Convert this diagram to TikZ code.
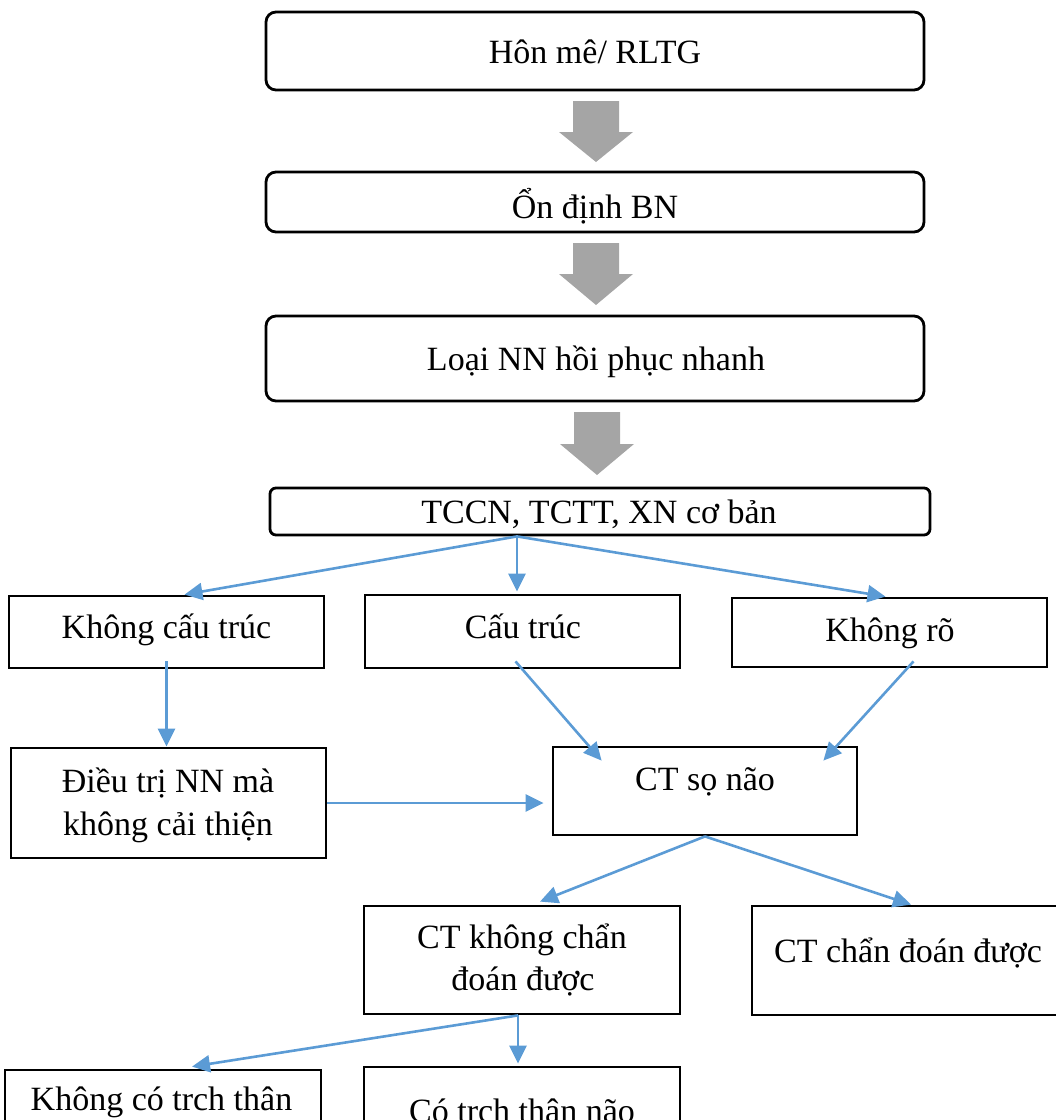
\documentclass[tikz,border=0pt]{standalone}
\usepackage{fontspec}
\setmainfont{Liberation Serif}
\usetikzlibrary{arrows.meta,calc}
\definecolor{cblue}{HTML}{5B9BD5}
\definecolor{agray}{HTML}{A5A5A5}
\newcommand\blockarrow[4]{% center x, top y, head y, tip y
  \fill[agray] (#1-23,#2) -- (#1+23,#2) -- (#1+23,#3) -- (#1+37,#3) -- (#1,#4) -- (#1-37,#3) -- (#1-23,#3) -- cycle;}
\tikzset{
  box/.style={draw, line width=2.8pt, inner sep=0pt},
  rbox/.style={box, rounded corners=10pt},
  txt/.style={font=\fontsize{34}{40}\selectfont, inner sep=0pt, anchor=base},
  conn/.style={draw=cblue, line width=2.6pt, -{Triangle[length=18pt,width=17pt]}},
}
\begin{document}
\begin{tikzpicture}[x=1pt,y=-1pt]
\useasboundingbox (0,0) rectangle (1056,1120);
\clip (0,0) rectangle (1056,1120);
% boxes
\node[rbox, minimum width=658pt, minimum height=78pt] (hon) at (595,51) {};
\node[rbox, minimum width=658pt, minimum height=60pt] (ond) at (595,202) {};
\node[rbox, minimum width=658pt, minimum height=85pt] (loai) at (595,358.5) {};
\node[box, rounded corners=6pt, minimum width=660pt, minimum height=47pt] (tccn) at (600,511.5) {};
\node[box, minimum width=315pt, minimum height=72pt] (kct) at (166.5,632) {};
\node[box, minimum width=315pt, minimum height=73pt] (ct) at (522.5,631.5) {};
\node[box, minimum width=315pt, minimum height=69pt] (kr) at (889.5,632.5) {};
\node[box, minimum width=315pt, minimum height=110pt] (dt) at (168.5,803) {};
\node[box, minimum width=304pt, minimum height=88pt] (ctsn) at (705,791) {};
\node[box, minimum width=316pt, minimum height=108pt] (ctk) at (522,960) {};
\node[box, minimum width=318pt, minimum height=109pt] (ctc) at (911,960.5) {};
\node[box, minimum width=316pt, minimum height=70pt] (kco) at (163,1105) {};
\node[box, minimum width=316pt, minimum height=73pt] (co) at (522,1103.5) {};
% texts
\node[txt] (hon-t) at (595,63) {Hôn mê/ RLTG};
\node[txt] (ond-t) at (595,218) {Ổn định BN};
\node[txt] (loai-t) at (596,370) {Loại NN hồi phục nhanh};
\node[txt] (tccn-t) at (599,523) {TCCN, TCTT, XN cơ bản};
\node[txt] (kct-t) at (166.5,638) {Không cấu trúc};
\node[txt] (ct-t) at (523,638) {Cấu trúc};
\node[txt] (kr-t) at (890,641) {Không rõ};
\node[txt] (dt-t1) at (168,792) {Điều trị NN mà};
\node[txt] (dt-t2) at (168,835) {không cải thiện};
\node[txt] (ctsn-t) at (705,790) {CT sọ não};
\node[txt] (ctk-t1) at (522,948) {CT không chẩn};
\node[txt] (ctk-t2) at (523,990) {đoán được};
\node[txt] (ctc-t) at (908,962) {CT chẩn đoán được};
\node[txt] (kco-t) at (161.5,1110) {Không có trch thân};
\node[txt] (co-t) at (522,1122) {Có trch thân não};
% gray block arrows
\blockarrow{596}{101}{132}{162}
\blockarrow{596}{243}{274}{305}
\blockarrow{597}{412}{444}{475}
% connectors
\coordinate (tb) at ($(tccn.south)+(-83,0)$);
\draw[conn] (tb) -- ($(kct.north)+(18,0)$);
\draw[conn] (tb) -- ($(tb |- ct.north)+(0,-2)$);
\draw[conn] (tb) -- ($(kr.north)+(-4,0)$);
\draw[conn] ($(kct.south)+(0,-8)$) -- (kct.south |- dt.north);
\draw[conn] (dt.east) -- ($(dt.east -| ctsn.west)+(-8,0)$);
\draw[conn] ($(ct.south)+(-7,-8)$) -- ($(ctsn.north west)+(50,15)$);
\draw[conn] ($(kr.south)+(24,-7)$) -- ($(ctsn.north east)+(-35,15)$);
\draw[conn] (ctsn.south) -- ($(ctk.north)+(18,-3)$);
\draw[conn] (ctsn.south) -- (ctc.north);
\coordinate (cb) at ($(ctk.south)+(-4,0)$);
\draw[conn] (cb) -- ($(cb |- co.north)+(0,-2)$);
\draw[conn] (cb) -- ($(kco.north)+(29,-2)$);
\end{tikzpicture}
\end{document}
